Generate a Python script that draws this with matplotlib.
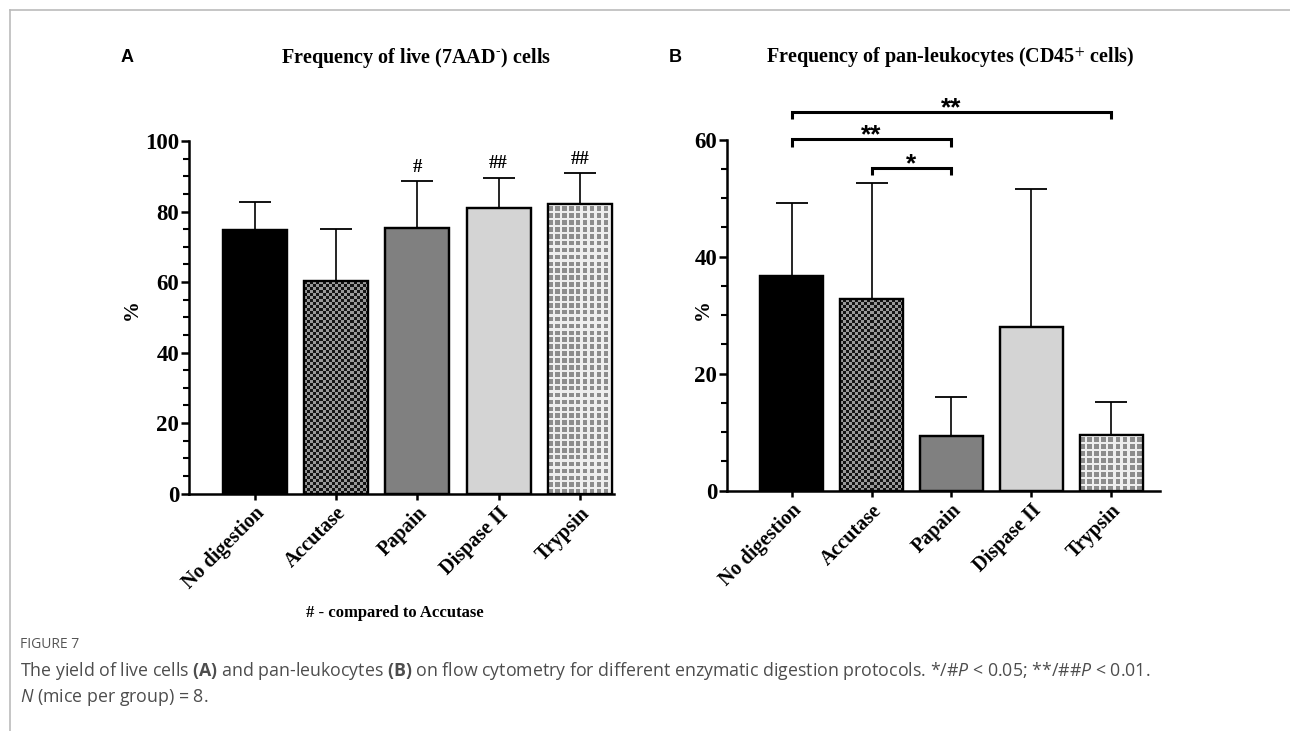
import numpy as np
import matplotlib
matplotlib.use("Agg")
import matplotlib.pyplot as plt
from matplotlib.ticker import MultipleLocator
from matplotlib.lines import Line2D

# ---------------- data ----------------
categories = ["No digestion", "Accutase", "Papain", "Dispase II", "Trypsin"]
live_mean = [74.7, 60.2, 75.3, 81.1, 82.0]
live_sd = [8.0, 14.8, 13.3, 8.4, 8.8]
live_marks = ["", "", "#", "##", "##"]
cd45_mean = [36.7, 32.8, 9.4, 28.0, 9.5]
cd45_sd = [12.4, 19.8, 6.6, 23.6, 5.6]
# significance brackets for panel B: (left idx, right idx, level, label)
cd45_sig = [(0, 4, 64.8, "**"), (0, 2, 60.1, "**"), (1, 2, 55.2, "*")]

title_A = r"Frequency of live (7AAD$^{\text{-}}$) cells"
title_B = "Frequency of pan-leukocytes (CD45$^{+}$ cells)"
footnote_A = "# - compared to Accutase"

plt.rcParams['mathtext.fontset'] = 'custom'
plt.rcParams['mathtext.rm'] = 'Open Sans'
plt.rcParams['mathtext.it'] = 'Open Sans:italic'
plt.rcParams['mathtext.bf'] = 'Open Sans:bold'

W, H = 1290, 731
fig = plt.figure(figsize=(W / 100, H / 100), dpi=100)

SERIF = "Liberation Serif"
styles = ["solid_black", "checker_dark", "grey", "lightgrey", "checker_light"]
base_colors = {"solid_black": "black", "checker_dark": "#555555", "grey": "#808080",
               "lightgrey": "#d4d4d4", "checker_light": "#e6e6e6"}


def px2fig(x, y):
    return x / W, 1 - y / H


def checker_image(ax, rect, kind):
    x0, y0 = rect.get_x(), rect.get_y()
    x1, y1 = x0 + rect.get_width(), y0 + rect.get_height()
    p0 = ax.transData.transform((x0, y0))
    p1 = ax.transData.transform((x1, y1))
    wpx, hpx = abs(p1[0] - p0[0]), abs(p1[1] - p0[1])
    if kind == "checker_dark":
        cell = 3.0
        nx, ny = max(1, int(round(wpx / cell))), max(1, int(round(hpx / cell)))
        ii, jj = np.meshgrid(np.arange(nx), np.arange(ny))
        img = np.where((ii + jj) % 2 == 0, 0.08, 0.60)
    else:
        cell = 2.3
        nx, ny = max(1, int(round(wpx / cell))), max(1, int(round(hpx / cell)))
        ii, jj = np.meshgrid(np.arange(nx), np.arange(ny))
        img = np.where(((ii % 3) < 2) & ((jj % 3) < 2), 0.55, 0.93)
    im = ax.imshow(img, cmap="gray", vmin=0, vmax=1, extent=(x0, x1, y0, y1),
                   aspect="auto", interpolation="nearest", zorder=2.2, origin="lower")
    im.set_clip_path(rect)


def make_panel(rect_px, means, sds, ymax, xright):
    left, bottom_px, width, height = rect_px
    ax = fig.add_axes([left / W, 1 - bottom_px / H, width / W, height / H])
    x = np.arange(len(categories))
    ax.set_xlim(-0.81, xright)
    ax.set_ylim(0, ymax)
    bars = ax.bar(x, means, width=0.79, color=[base_colors[s] for s in styles],
                  edgecolor="black", linewidth=1.6, zorder=2)
    for b, s in zip(bars, styles):
        if s.startswith("checker"):
            checker_image(ax, b, s)
    ax.bar(x, means, width=0.79, fill=False, edgecolor="black", linewidth=1.6, zorder=3)
    ax.errorbar(x, means, yerr=[np.zeros(len(means)), sds], fmt="none", ecolor="black",
                elinewidth=1.2, capsize=11.5, capthick=1.3, zorder=1.5)
    for sp in ["top", "right"]:
        ax.spines[sp].set_visible(False)
    for sp in ["left", "bottom"]:
        ax.spines[sp].set_linewidth(1.8)
    ax.yaxis.set_major_locator(MultipleLocator(20))
    ax.yaxis.set_minor_locator(MultipleLocator(5))
    ax.tick_params(axis="y", which="major", length=6, width=1.8, pad=1)
    ax.tick_params(axis="y", which="minor", length=4, width=1.5)
    ax.tick_params(axis="x", which="major", length=4, width=1.8, pad=3)
    ax.set_xticks(x)
    ax.set_xticklabels(categories, rotation=45, ha="right", va="top",
                       rotation_mode="anchor", fontfamily=SERIF, fontweight="bold",
                       fontsize=14.5)
    for lab in ax.get_yticklabels():
        lab.set_fontfamily(SERIF)
        lab.set_fontweight("bold")
        lab.set_fontsize(16.5)
    ax.set_facecolor("none")
    return ax, x


# Panel A
axA, xA = make_panel((189, 493.6, 425, 352.6), live_mean, live_sd, 100, 4.42)
for xi, m, s, mk in zip(xA, live_mean, live_sd, live_marks):
    if mk:
        axA.text(xi, m + s + 1.6, mk, ha="center", va="bottom", fontfamily=SERIF,
                 fontweight="bold", fontsize=13.5, zorder=4)

# Panel B
axB, xB = make_panel((727, 490.7, 433, 351), cd45_mean, cd45_sd, 60, 4.61)
for i0, i1, lvl, lab in cd45_sig:
    axB.add_line(Line2D([xB[i0], xB[i0], xB[i1], xB[i1]], [lvl - 1.3, lvl, lvl, lvl - 1.3],
                        color="black", lw=2.2, clip_on=False, solid_joinstyle="miter",
                        solid_capstyle="butt"))
    axB.text((xB[i0] + xB[i1]) / 2, lvl - 0.6, lab, ha="center", va="baseline",
             fontfamily="Liberation Sans", fontweight="bold", fontsize=19, clip_on=False)

# y labels
for (px, py) in [(132, 310), (703, 310)]:
    fx, fy = px2fig(px, py)
    fig.text(fx, fy, "%", rotation=90, ha="center", va="center", fontfamily=SERIF,
             fontweight="bold", fontsize=15)

# titles and panel letters
fx, fy = px2fig(416, 58)
fig.text(fx, fy, title_A, ha="center", va="center", fontfamily=SERIF, fontweight="bold",
         fontsize=14.5, math_fontfamily="stix")
fx, fy = px2fig(950, 58)
fig.text(fx, fy, title_B, ha="center", va="center", fontfamily=SERIF, fontweight="bold",
         fontsize=14.5, math_fontfamily="stix")
for lab, px in [("A", 127), ("B", 675)]:
    fx, fy = px2fig(px, 58)
    fig.text(fx, fy, lab, ha="center", va="center", fontfamily="Liberation Sans",
             fontweight="bold", fontsize=13)

fx, fy = px2fig(395, 613)
fig.text(fx, fy, footnote_A, ha="center", va="center", fontfamily=SERIF,
         fontweight="bold", fontsize=12)

# caption
fx, fy = px2fig(20, 645)
fig.text(fx, fy, "FIGURE 7", ha="left", va="center", fontfamily="Open Sans",
         fontsize=10, color="#555555")
cap1 = (r"The yield of live cells $\mathbf{(A)}$ and pan-leukocytes $\mathbf{(B)}$ on flow "
        r"cytometry for different enzymatic digestion protocols. */#$P$ < 0.05; **/##$P$ < 0.01.")
cap2 = r"$N$ (mice per group) = 8."
fx, fy = px2fig(20, 671)
fig.text(fx, fy, cap1, ha="left", va="center", fontfamily="Open Sans", fontsize=12.8,
         color="#4d4d4d", math_fontfamily="custom")
fx, fy = px2fig(20, 697)
fig.text(fx, fy, cap2, ha="left", va="center", fontfamily="Open Sans", fontsize=12.8,
         color="#4d4d4d", math_fontfamily="custom")

# frame lines
fig.add_artist(Line2D([10 / W, 1], [1 - 10 / H, 1 - 10 / H], color="#bbbbbb", lw=1.2,
                      transform=fig.transFigure))
fig.add_artist(Line2D([10 / W, 10 / W], [0, 1 - 10 / H], color="#bbbbbb", lw=1.2,
                      transform=fig.transFigure))

fig.savefig("out.png", dpi=100)
